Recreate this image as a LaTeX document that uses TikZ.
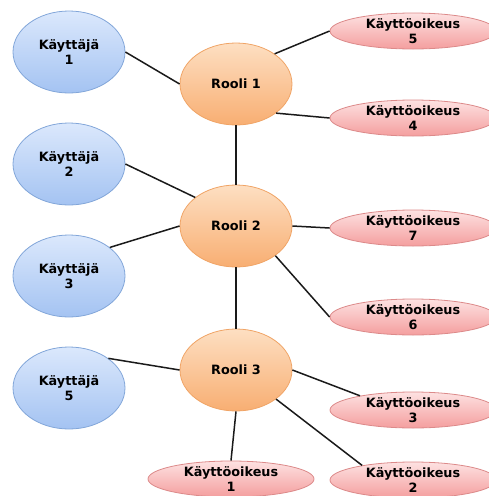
\documentclass[tikz,border=0pt]{standalone}
\usepackage{fontspec}
\setmainfont{DejaVu Sans}
\usetikzlibrary{shapes.geometric}
\definecolor{bluetop}{HTML}{DBE8FC}
\definecolor{bluebot}{HTML}{A4C3F2}
\definecolor{blueedge}{HTML}{82A6D9}
\definecolor{ortop}{HTML}{FDDFC2}
\definecolor{orbot}{HTML}{F8AE72}
\definecolor{oredge}{HTML}{F0A466}
\definecolor{pktop}{HTML}{FDE2E2}
\definecolor{pkbot}{HTML}{F49E9E}
\definecolor{pkedge}{HTML}{DC8A8A}
\definecolor{linec}{HTML}{1A1A1A}
\begin{document}
\begin{tikzpicture}[x=1pt,y=-1pt,
  txt/.style={font=\fontsize{12.8}{15.5}\selectfont\bfseries, align=center, inner sep=0pt, text=black},
  base/.style={ellipse, inner sep=0pt, line width=0.8pt},
  user/.style={base, txt, minimum width=112pt, minimum height=82pt, top color=bluetop, bottom color=bluebot, draw=blueedge},
  role/.style={base, txt, minimum width=112pt, minimum height=82pt, top color=ortop, bottom color=orbot, draw=oredge},
  perm/.style={base, minimum width=166pt, minimum height=36pt, top color=pktop, bottom color=pkbot, draw=pkedge},
  link/.style={line width=1.5pt, draw=linec}]
\useasboundingbox (0,0) rectangle (489,496);
\clip (0,0) rectangle (489,496);

% users
\node[user] (u1) at (69,52) {Käyttäjä\\1};
\node[user] (u2) at (69,164) {Käyttäjä\\2};
\node[user] (u3) at (69,276) {Käyttäjä\\3};
\node[user] (u5) at (69,388) {Käyttäjä\\5};

% roles
\node[role] (r1) at (236,84) {Rooli 1};
\node[role] (r2) at (236,226) {Rooli 2};
\node[role] (r3) at (236,370) {Rooli 3};

% permissions
\node[perm] (p5) at (413,31) {};
\node[txt] (p5t) at (p5) {Käyttöoikeus\\5};
\node[perm] (p4) at (413,118) {};
\node[txt] (p4t) at (p4) {Käyttöoikeus\\4};
\node[perm] (p7) at (413,228) {};
\node[txt] (p7t) at (p7) {Käyttöoikeus\\7};
\node[perm] (p6) at (413,317) {};
\node[txt] (p6t) at (p6) {Käyttöoikeus\\6};
\node[perm] (p3) at (413,410) {};
\node[txt] (p3t) at (p3) {Käyttöoikeus\\3};
\node[perm] (p2) at (413,480) {};
\node[txt] (p2t) at (p2) {Käyttöoikeus\\2};
\node[perm] (p1) at (231,479) {};
\node[txt] (p1t) at (p1) {Käyttöoikeus\\1};

% links
\draw[link] (u1.east) -- (r1.west);
\draw[link] (r1.38) -- (p5.west);
\draw[link] (r1.-36) -- (p4.west);
\draw[link] (r1.south) -- (r2.north);
\draw[link] (u2.east) -- (r2.145);
\draw[link] (u3.35) -- (r2.west);
\draw[link] (r2.east) -- (p7.west);
\draw[link] (r2.-37) -- (p6.west);
\draw[link] (r2.south) -- (r3.north);
\draw[link] (u5.37) -- (r3.west);
\draw[link] (r3.east) -- (p3.165);
\draw[link] (r3.south) -- (p1.north);
\draw[link] (r3.-36) -- (p2.164);
\end{tikzpicture}
\end{document}
